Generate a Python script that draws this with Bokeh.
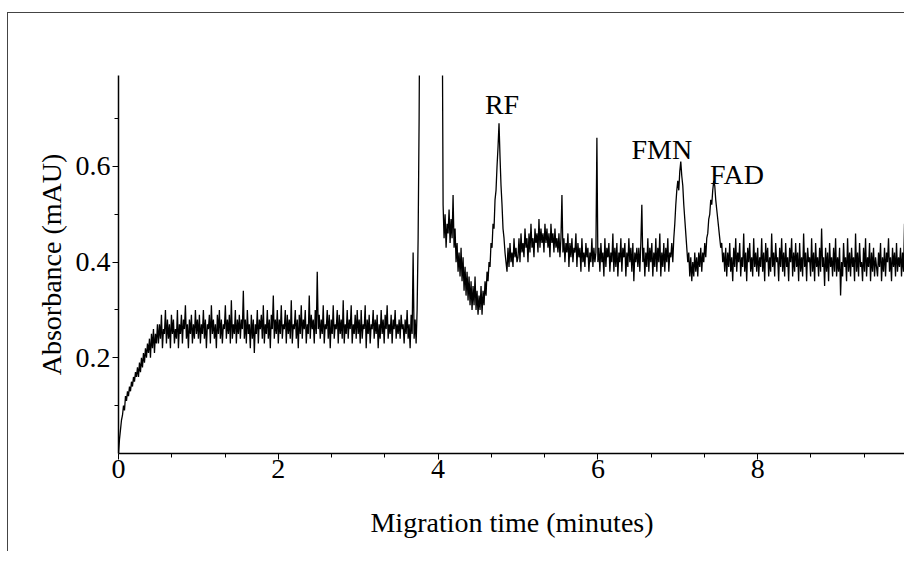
import numpy as np
from bokeh.plotting import figure
from bokeh.models import ColumnDataSource, FixedTicker, Range1d, InlineStyleSheet
from bokeh.core.properties import value
from bokeh.embed import file_html
from bokeh.resources import INLINE

# sampling of the trace (minutes)
t_start = 0.0
t_step = 0.0125

# absorbance (mAU), 40 samples per half minute
absorbance = [
    # 0.0 - 0.5
    0.00, 0.03, 0.05, 0.07, 0.08, 0.10, 0.09, 0.12, 0.11, 0.13, 0.12, 0.14, 0.13, 0.15, 0.14, 0.16, 0.15, 0.17, 0.16, 0.18,
    0.16, 0.19, 0.17, 0.20, 0.18, 0.21, 0.19, 0.22, 0.20, 0.23, 0.21, 0.24, 0.20, 0.25, 0.22, 0.26, 0.21, 0.25, 0.23, 0.27,
    # 0.5 - 1.0
    0.23, 0.27, 0.24, 0.29, 0.22, 0.26, 0.25, 0.30, 0.23, 0.28, 0.24, 0.27, 0.22, 0.29, 0.25, 0.28, 0.23, 0.26, 0.24, 0.30,
    0.22, 0.27, 0.25, 0.29, 0.23, 0.28, 0.26, 0.31, 0.24, 0.27, 0.22, 0.28, 0.25, 0.29, 0.23, 0.27, 0.24, 0.30, 0.25, 0.28,
    # 1.0 - 1.5
    0.24, 0.29, 0.23, 0.27, 0.25, 0.30, 0.24, 0.28, 0.22, 0.27, 0.26, 0.29, 0.23, 0.31, 0.25, 0.28, 0.24, 0.27, 0.22, 0.29,
    0.25, 0.30, 0.24, 0.28, 0.23, 0.27, 0.26, 0.31, 0.24, 0.28, 0.25, 0.29, 0.23, 0.32, 0.24, 0.27, 0.25, 0.30, 0.23, 0.28,
    # 1.5 - 2.0
    0.25, 0.29, 0.24, 0.28, 0.26, 0.34, 0.24, 0.28, 0.23, 0.30, 0.25, 0.27, 0.22, 0.29, 0.24, 0.28, 0.21, 0.27, 0.25, 0.30,
    0.23, 0.28, 0.26, 0.29, 0.24, 0.31, 0.23, 0.27, 0.25, 0.30, 0.24, 0.28, 0.22, 0.29, 0.26, 0.33, 0.24, 0.28, 0.25, 0.30,
    # 2.0 - 2.5
    0.23, 0.28, 0.25, 0.31, 0.24, 0.27, 0.26, 0.30, 0.23, 0.29, 0.25, 0.28, 0.24, 0.32, 0.23, 0.27, 0.26, 0.30, 0.24, 0.28,
    0.22, 0.29, 0.25, 0.31, 0.24, 0.28, 0.26, 0.30, 0.23, 0.27, 0.25, 0.33, 0.24, 0.29, 0.26, 0.28, 0.23, 0.30, 0.25, 0.38,
    # 2.5 - 3.0
    0.26, 0.29, 0.24, 0.28, 0.25, 0.31, 0.23, 0.27, 0.26, 0.30, 0.24, 0.29, 0.22, 0.28, 0.25, 0.31, 0.24, 0.27, 0.26, 0.30,
    0.23, 0.29, 0.25, 0.28, 0.24, 0.32, 0.23, 0.27, 0.25, 0.30, 0.24, 0.28, 0.26, 0.31, 0.23, 0.27, 0.25, 0.29, 0.24, 0.30,
    # 3.0 - 3.5
    0.25, 0.28, 0.23, 0.30, 0.24, 0.27, 0.26, 0.31, 0.22, 0.28, 0.25, 0.29, 0.23, 0.27, 0.26, 0.30, 0.24, 0.28, 0.25, 0.29,
    0.22, 0.27, 0.24, 0.30, 0.25, 0.28, 0.23, 0.29, 0.26, 0.31, 0.24, 0.27, 0.25, 0.29, 0.23, 0.28, 0.26, 0.30, 0.24, 0.27,
    # 3.5 - 4.0
    0.25, 0.28, 0.24, 0.29, 0.26, 0.27, 0.23, 0.28, 0.25, 0.30, 0.24, 0.27, 0.22, 0.29, 0.25, 0.42, 0.24, 0.28, 0.23, 0.30,
    0.45, 0.70, 1.10, 1.20, 1.20, 1.20, 1.20, 1.20, 1.20, 1.20, 1.20, 1.20, 1.20, 1.20, 1.20, 1.20, 1.20, 1.20, 1.20, 1.20,
    # 4.0 - 4.5
    1.20, 1.20, 1.20, 1.20, 1.00, 0.52, 0.45, 0.50, 0.43, 0.48, 0.46, 0.51, 0.44, 0.49, 0.45, 0.54, 0.43, 0.47, 0.40, 0.44,
    0.38, 0.42, 0.37, 0.43, 0.36, 0.41, 0.34, 0.39, 0.33, 0.38, 0.32, 0.37, 0.31, 0.36, 0.30, 0.35, 0.31, 0.37, 0.30, 0.34,
    # 4.5 - 5.0
    0.29, 0.33, 0.30, 0.35, 0.29, 0.34, 0.31, 0.36, 0.33, 0.38, 0.36, 0.40, 0.39, 0.44, 0.43, 0.48, 0.47, 0.53, 0.55, 0.60,
    0.64, 0.69, 0.62, 0.56, 0.52, 0.47, 0.45, 0.42, 0.40, 0.38, 0.43, 0.39, 0.44, 0.40, 0.42, 0.39, 0.45, 0.41, 0.43, 0.40,
    # 5.0 - 5.5
    0.41, 0.45, 0.40, 0.46, 0.42, 0.44, 0.41, 0.47, 0.43, 0.45, 0.40, 0.46, 0.42, 0.48, 0.43, 0.45, 0.41, 0.47, 0.44, 0.46,
    0.42, 0.49, 0.43, 0.47, 0.44, 0.46, 0.42, 0.48, 0.44, 0.47, 0.43, 0.46, 0.41, 0.48, 0.44, 0.46, 0.42, 0.47, 0.43, 0.45,
    # 5.5 - 6.0
    0.42, 0.46, 0.41, 0.45, 0.54, 0.42, 0.45, 0.40, 0.44, 0.42, 0.46, 0.39, 0.44, 0.41, 0.45, 0.40, 0.43, 0.42, 0.46, 0.39,
    0.44, 0.41, 0.43, 0.38, 0.45, 0.40, 0.42, 0.39, 0.44, 0.41, 0.43, 0.38, 0.42, 0.40, 0.45, 0.39, 0.43, 0.40, 0.42, 0.66,
    # 6.0 - 6.5
    0.40, 0.43, 0.38, 0.44, 0.40, 0.42, 0.37, 0.45, 0.39, 0.43, 0.41, 0.44, 0.38, 0.42, 0.40, 0.46, 0.38, 0.43, 0.39, 0.44,
    0.37, 0.42, 0.40, 0.45, 0.38, 0.43, 0.41, 0.44, 0.37, 0.42, 0.39, 0.45, 0.40, 0.43, 0.38, 0.44, 0.36, 0.42, 0.40, 0.43,
    # 6.5 - 7.0
    0.39, 0.43, 0.38, 0.44, 0.52, 0.40, 0.43, 0.37, 0.42, 0.39, 0.45, 0.38, 0.43, 0.40, 0.44, 0.37, 0.42, 0.39, 0.45, 0.38,
    0.43, 0.40, 0.46, 0.37, 0.42, 0.39, 0.44, 0.38, 0.43, 0.40, 0.45, 0.38, 0.42, 0.41, 0.44, 0.40, 0.45, 0.48, 0.52, 0.55,
    # 7.0 - 7.5
    0.57, 0.55, 0.59, 0.61, 0.58, 0.56, 0.52, 0.49, 0.46, 0.43, 0.40, 0.42, 0.37, 0.41, 0.36, 0.40, 0.37, 0.42, 0.38, 0.41,
    0.37, 0.42, 0.39, 0.43, 0.38, 0.42, 0.40, 0.44, 0.41, 0.45, 0.46, 0.49, 0.50, 0.53, 0.52, 0.55, 0.57, 0.56, 0.53, 0.51,
    # 7.5 - 8.0
    0.49, 0.47, 0.45, 0.43, 0.44, 0.40, 0.42, 0.38, 0.43, 0.37, 0.42, 0.39, 0.44, 0.38, 0.41, 0.36, 0.43, 0.39, 0.45, 0.38,
    0.42, 0.40, 0.44, 0.37, 0.41, 0.39, 0.46, 0.38, 0.42, 0.36, 0.43, 0.40, 0.44, 0.38, 0.41, 0.37, 0.45, 0.39, 0.42, 0.38,
    # 8.0 - 8.5
    0.43, 0.37, 0.41, 0.39, 0.45, 0.38, 0.42, 0.36, 0.44, 0.40, 0.43, 0.37, 0.41, 0.38, 0.46, 0.39, 0.42, 0.37, 0.44, 0.40,
    0.41, 0.36, 0.43, 0.39, 0.45, 0.38, 0.42, 0.37, 0.44, 0.39, 0.41, 0.36, 0.43, 0.40, 0.45, 0.37, 0.42, 0.38, 0.44, 0.39,
    # 8.5 - 9.0
    0.42, 0.36, 0.44, 0.38, 0.41, 0.37, 0.46, 0.39, 0.42, 0.36, 0.43, 0.40, 0.41, 0.37, 0.45, 0.38, 0.42, 0.36, 0.44, 0.39,
    0.41, 0.37, 0.43, 0.38, 0.47, 0.39, 0.41, 0.35, 0.43, 0.38, 0.42, 0.36, 0.44, 0.39, 0.41, 0.37, 0.43, 0.38, 0.45, 0.37,
    # 9.0 - 9.5
    0.41, 0.38, 0.43, 0.33, 0.40, 0.37, 0.44, 0.39, 0.41, 0.36, 0.45, 0.38, 0.42, 0.37, 0.43, 0.39, 0.41, 0.36, 0.46, 0.38,
    0.42, 0.37, 0.44, 0.39, 0.40, 0.36, 0.43, 0.38, 0.45, 0.37, 0.41, 0.39, 0.44, 0.36, 0.42, 0.38, 0.43, 0.37, 0.41, 0.39,
    # 9.5 - 10.0
    0.37, 0.42, 0.39, 0.44, 0.36, 0.41, 0.38, 0.43, 0.37, 0.42, 0.40, 0.45, 0.38, 0.41, 0.36, 0.43, 0.39, 0.42, 0.37, 0.44,
    0.38, 0.41, 0.39, 0.43, 0.37, 0.42, 0.38, 0.48, 0.39, 0.41, 0.37, 0.42, 0.38, 0.41, 0.39, 0.42, 0.37, 0.40, 0.39, 0.41,
]
time_min = [round(t_start + i * t_step, 4) for i in range(len(absorbance))]

# peak labels
peak_names = ["RF", "FMN", "FAD"]
peak_x = [4.8, 6.8, 7.74]
peak_y = [0.73, 0.635, 0.583]

x_major = [0, 2, 4, 6, 8]
x_minor = [0.667, 1.333, 2.667, 3.333, 4.667, 5.333, 6.667, 7.333, 8.667, 9.333]
y_major = [0.2, 0.4, 0.6]
y_minor = [0.1, 0.3, 0.5, 0.7]

FONT = "Liberation Serif"

p = figure(width=897, height=539, output_backend="svg", toolbar_location=None,
           x_range=Range1d(0, 9.85), y_range=Range1d(0, 0.79),
           min_border_left=110, min_border_right=0, min_border_top=62, min_border_bottom=99,
           background_fill_color="white", border_fill_color="white")
p.stylesheets = [InlineStyleSheet(css=":host { border-top: 1px solid #444; border-left: 1px solid #444; margin-top: 12px; margin-left: 7px; }")]
p.outline_line_color = None
p.grid.visible = False

src = ColumnDataSource(dict(t=time_min, a=absorbance))
p.line("t", "a", source=src, line_color="black", line_width=1.3)

lab = ColumnDataSource(dict(x=peak_x, y=peak_y, name=peak_names))
p.text("x", "y", text="name", source=lab, text_font=value(FONT), text_font_size="28px",
       text_align="center", text_baseline="alphabetic", text_color="black")

p.xaxis.ticker = FixedTicker(ticks=x_major, minor_ticks=x_minor)
p.yaxis.ticker = FixedTicker(ticks=y_major, minor_ticks=y_minor)
p.xaxis.axis_label = "Migration time (minutes)"
p.yaxis.axis_label = "Absorbance (mAU)"
for ax in (p.xaxis, p.yaxis):
    ax.axis_line_color = "black"
    ax.axis_line_width = 1.5
    ax.major_tick_line_color = "black"
    ax.minor_tick_line_color = "black"
    ax.major_tick_in = 0
    ax.major_tick_out = 6
    ax.minor_tick_in = 0
    ax.minor_tick_out = 4
    ax.major_label_text_font = FONT
    ax.major_label_text_font_size = "28px"
    ax.major_label_text_color = "black"
    ax.axis_label_text_font = FONT
    ax.axis_label_text_font_size = "28px"
    ax.axis_label_text_font_style = "normal"
    ax.axis_label_text_color = "black"
p.yaxis.major_label_standoff = 2
p.yaxis.axis_label_standoff = 6
p.xaxis.major_label_standoff = 0
p.xaxis.axis_label_standoff = 26

open("out.html", "w").write(file_html(p, INLINE))
